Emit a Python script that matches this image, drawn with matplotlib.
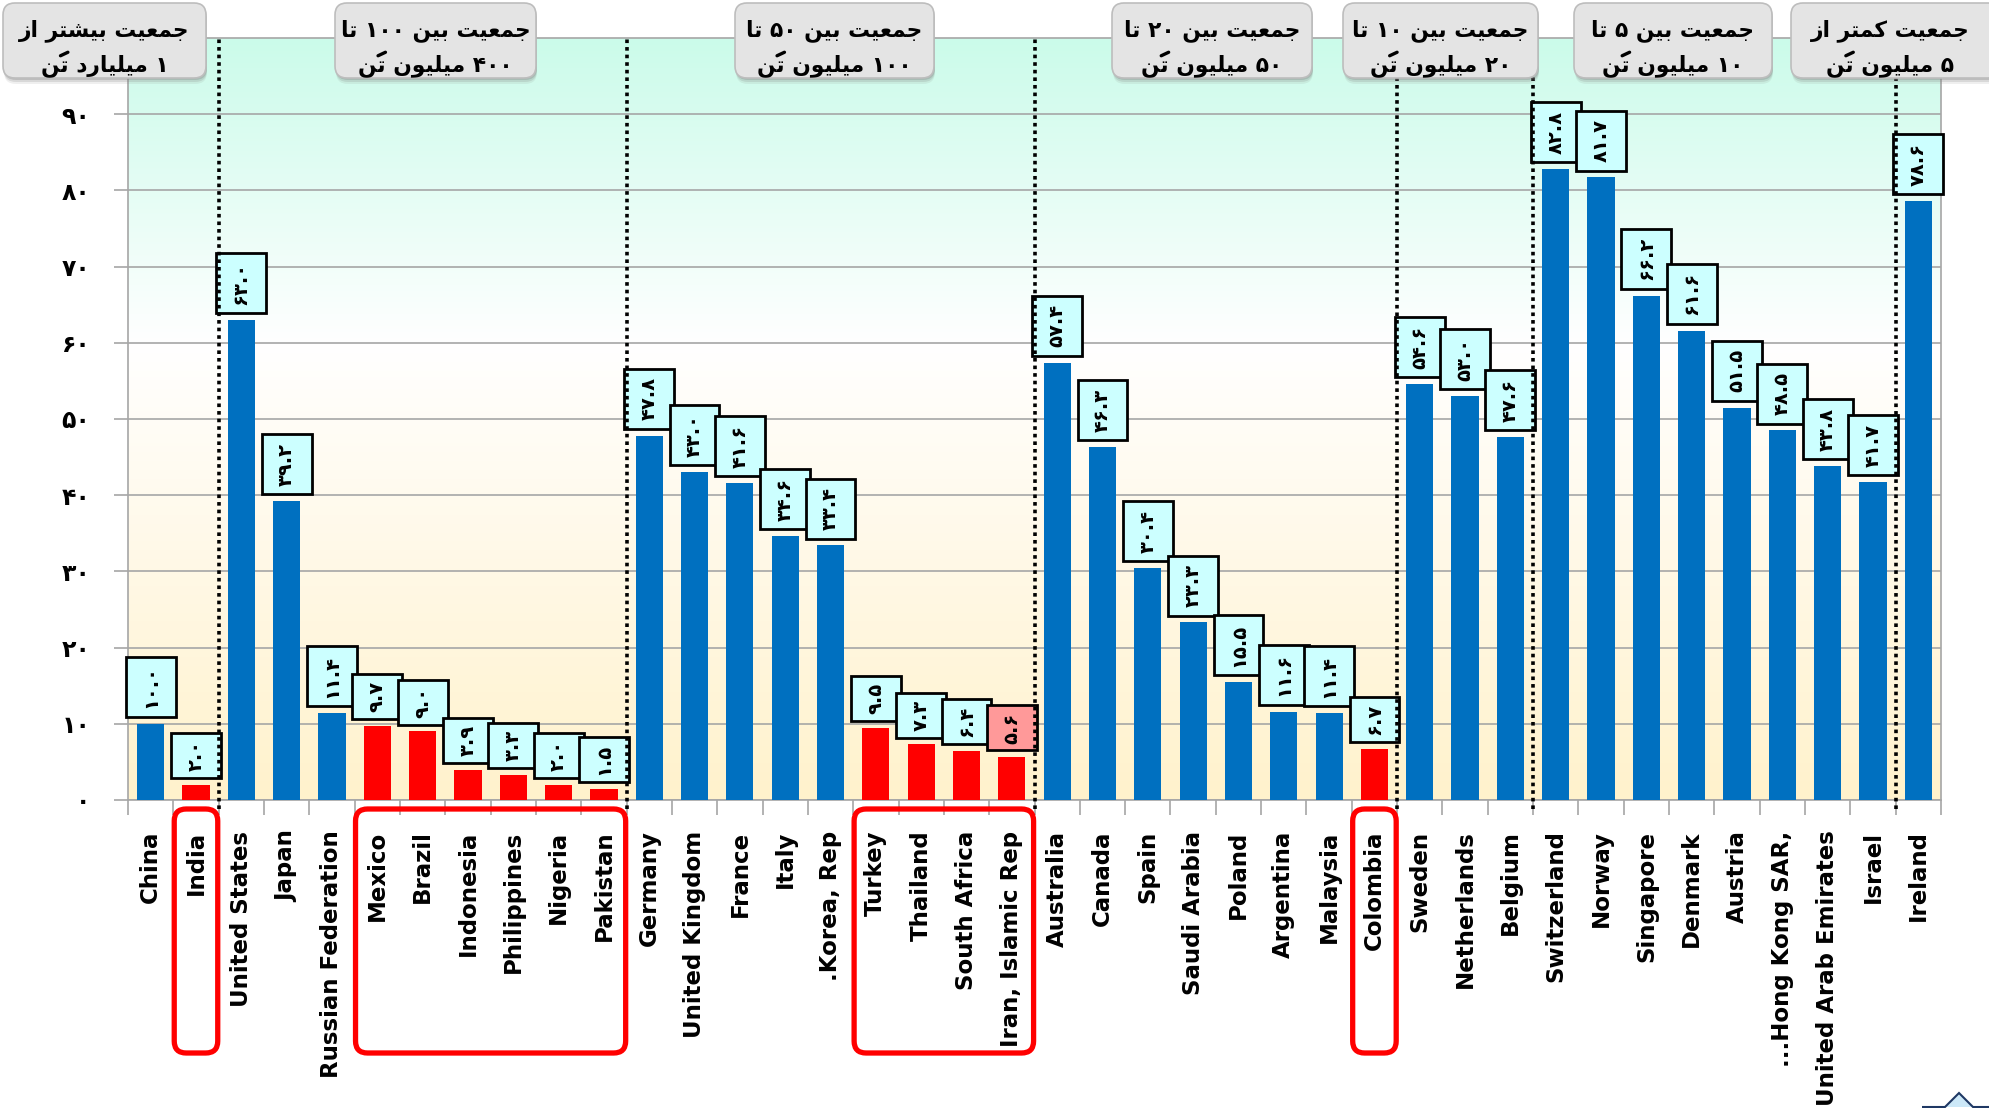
import numpy as np
import matplotlib
matplotlib.use("Agg")
import matplotlib.pyplot as plt
from matplotlib.patches import FancyBboxPatch, Rectangle, Polygon
from matplotlib.colors import LinearSegmentedColormap
from matplotlib.font_manager import FontProperties

countries = ["China", "India", "United States", "Japan", "Russian Federation",
             "Mexico", "Brazil", "Indonesia", "Philippines", "Nigeria", "Pakistan",
             "Germany", "United Kingdom", "France", "Italy", ".Korea, Rep",
             "Turkey", "Thailand", "South Africa", "Iran, Islamic Rep",
             "Australia", "Canada", "Spain", "Saudi Arabia", "Poland", "Argentina",
             "Malaysia", "Colombia", "Sweden", "Netherlands", "Belgium",
             "Switzerland", "Norway", "Singapore", "Denmark", "Austria",
             "...Hong Kong SAR,", "United Arab Emirates", "Israel", "Ireland"]
values = [10.0, 2.0, 63.0, 39.2, 11.4, 9.7, 9.0, 3.9, 3.3, 2.0, 1.5,
          47.8, 43.0, 41.6, 34.6, 33.4, 9.5, 7.3, 6.4, 5.6,
          57.4, 46.3, 30.4, 23.3, 15.5, 11.6, 11.4, 6.7,
          54.6, 53.0, 47.6, 82.8, 81.7, 66.2, 61.6, 51.5, 48.5, 43.8, 41.7, 78.6]
highlight = ["India", "Mexico", "Brazil", "Indonesia", "Philippines", "Nigeria",
             "Pakistan", "Turkey", "Thailand", "South Africa", "Iran, Islamic Rep",
             "Colombia"]
group_sizes = [2, 9, 9, 8, 3, 8, 1]
group_titles = [("جمعیت بیشتر از", "۱ میلیارد تن"),
                ("جمعیت بین ۱۰۰ تا", "۴۰۰ میلیون تن"),
                ("جمعیت بین ۵۰ تا", "۱۰۰ میلیون تن"),
                ("جمعیت بین ۲۰ تا", "۵۰ میلیون تن"),
                ("جمعیت بین ۱۰ تا", "۲۰ میلیون تن"),
                ("جمعیت بین ۵ تا", "۱۰ میلیون تن"),
                ("جمعیت کمتر از", "۵ میلیون تن")]
yticks = [0, 10, 20, 30, 40, 50, 60, 70, 80, 90]

# --- minimal Persian shaping (matplotlib has no bidi / joining) ---
FORMS = {
    'ج': ('\uFE9D', '\uFE9E', '\uFE9F', '\uFEA0'),
    'م': ('\uFEE1', '\uFEE2', '\uFEE3', '\uFEE4'),
    'ع': ('\uFEC9', '\uFECA', '\uFECB', '\uFECC'),
    'ی': ('\uFBFC', '\uFBFD', '\uFBFE', '\uFBFF'),
    'ت': ('\uFE95', '\uFE96', '\uFE97', '\uFE98'),
    'ب': ('\uFE8F', '\uFE90', '\uFE91', '\uFE92'),
    'ش': ('\uFEB5', '\uFEB6', '\uFEB7', '\uFEB8'),
    'ن': ('\uFEE5', '\uFEE6', '\uFEE7', '\uFEE8'),
    'ل': ('\uFEDD', '\uFEDE', '\uFEDF', '\uFEE0'),
    'ک': ('\uFB8E', '\uFB8F', '\uFB90', '\uFB91'),
    'ا': ('\uFE8D', '\uFE8E', None, None),
    'ر': ('\uFEAD', '\uFEAE', None, None),
    'ز': ('\uFEAF', '\uFEB0', None, None),
    'د': ('\uFEA9', '\uFEAA', None, None),
    'و': ('\uFEED', '\uFEEE', None, None),
}
FA_DIGITS = '۰۱۲۳۴۵۶۷۸۹'


def fa(s):
    return ''.join(FA_DIGITS[int(c)] if c.isdigit() else c for c in s)


def shape_tokens(s):
    # returns glyph tokens in visual (left-to-right) order
    n = len(s)
    tokens = []
    for i, c in enumerate(s):
        if c in FORMS:
            p = s[i - 1] if i > 0 else None
            q = s[i + 1] if i + 1 < n else None
            cp = p in FORMS and FORMS[p][2] is not None
            cn = FORMS[c][2] is not None and q in FORMS
            f = FORMS[c][{(0, 0): 0, (1, 0): 1, (0, 1): 2, (1, 1): 3}[(int(cp), int(cn))]]
        else:
            f = c
        if c in FA_DIGITS + '.' and tokens and tokens[-1][-1] in FA_DIGITS + '.':
            tokens[-1] += f
        else:
            tokens.append(f)
    return list(reversed(tokens))


W, H = 1989, 1108
fig = plt.figure(figsize=(W / 100, H / 100), dpi=100)
ax = fig.add_axes([128 / W, (H - 800) / H, (1941 - 128) / W, (800 - 38) / H])

x = np.arange(len(countries))
is_red = [c in highlight for c in countries]
colors = ['#FF0000' if r else '#0070C0' for r in is_red]

# background gradient
grad_cmap = LinearSegmentedColormap.from_list(
    'bg', [(0, '#FFF2CC'), (0.42, '#FFFBF0'), (0.6, '#FFFFFF'), (1, '#CBFBEA')])
ax.imshow(np.linspace(0, 1, 256)[:, None], cmap=grad_cmap, origin='lower',
          extent=[-0.5, len(x) - 0.5, 0, 100], aspect='auto', zorder=0)

ax.bar(x, values, width=0.6, color=colors, zorder=3)
ax.set_xlim(-0.5, len(x) - 0.5)
ax.set_ylim(0, 100)
ax.set_yticks(yticks)
ax.set_yticklabels([fa(str(v)) for v in yticks], fontsize=17, fontweight='bold')
ax.grid(axis='y', color='#A6A6A6', lw=1.2, zorder=1)
ax.set_axisbelow(False)
ax.tick_params(axis='y', length=10, width=1.2, color='#A6A6A6', pad=17)
ax.set_xticks(x)
ax.set_xticklabels(countries, rotation=90, fontsize=16.5, fontweight='bold', va='top')
ax.set_xticks(np.arange(-0.5, len(x), 1), minor=True)
ax.tick_params(axis='x', which='major', length=0, pad=22)
ax.tick_params(axis='x', which='minor', length=11, width=1.2, color='#A6A6A6')
for sp in ax.spines.values():
    sp.set_color('#A6A6A6')
    sp.set_linewidth(1.2)

# value label boxes
px_per_unit = 762 / 100
for i, (v, c) in enumerate(zip(values, countries)):
    lab = fa(f"{v:.1f}")
    h = 15 * len(lab) / px_per_unit
    y0 = v + 0.9
    fc = '#FF9999' if c.startswith('Iran') else '#CCFFFF'
    ax.add_patch(Rectangle((i - 0.55, y0), 1.1, h, facecolor=fc, edgecolor='black',
                           lw=2, zorder=4 + i * 0.01, clip_on=False))
    ax.text(i, y0 + h / 2, lab, rotation=90, ha='center', va='center', fontsize=14,
            fontweight='bold', zorder=4 + i * 0.01 + 0.005)

# dotted group separators
b = np.cumsum(group_sizes)[:-1] - 0.5
for xb in b:
    ax.plot([xb, xb], [-1.2, 100], color='black', lw=2.6, ls=(0, (1, 1.1)),
            clip_on=False, zorder=20)

# overlay in pixel coordinates
ov = fig.add_axes([0, 0, 1, 1], zorder=10)
ov.set_xlim(0, W)
ov.set_ylim(H, 0)
ov.axis('off')
ov.patch.set_visible(False)

renderer = fig.canvas.get_renderer()


def text_w(s, size):
    fp = FontProperties(family='DejaVu Sans', weight='bold', size=size)
    return renderer.get_text_width_height_descent(s, fp, ismath=False)[0]


head_boxes = [(3, 206), (335, 536), (735, 934), (1112, 1312), (1343, 1538),
              (1574, 1772), (1791, 2000)]
shaped = [[shape_tokens(l) for l in t] for t in group_titles]
fs = min(17, min(10 * (min(x1, W) - x0 - 10) / text_w(''.join(tk), 10)
                 for (x0, x1), t in zip(head_boxes, shaped) for tk in t))

head_cmap = LinearSegmentedColormap.from_list('hd', ['#F2F2F2', '#D3D3D3'])
for (x0, x1), (l1, l2) in zip(head_boxes, shaped):
    y0, y1 = 3, 78
    for off, al in [(6, 0.12), (4, 0.2), (2, 0.3)]:
        ov.add_patch(FancyBboxPatch((x0 + 1, y0 + off), x1 - x0, y1 - y0,
                                    boxstyle='round,pad=0,rounding_size=12',
                                    fc='#808080', ec='none', alpha=al))
    p = FancyBboxPatch((x0, y0), x1 - x0, y1 - y0,
                       boxstyle='round,pad=0,rounding_size=12',
                       fc='#E4E4E4', ec='#BDBDBD', lw=1.2)
    ov.add_patch(p)
    im = ov.imshow(np.linspace(0, 1, 64)[:, None], cmap=head_cmap,
                   extent=[x0, x1, y1, y0], aspect='auto')
    im.set_clip_path(p)
    xc = (x0 + min(x1, W)) / 2
    s1, s2 = ''.join(l1), ''.join(l2)
    ov.text(xc, 36, s1, ha='center', va='baseline', fontsize=fs, fontweight='bold')
    ov.text(xc, 71, s2, ha='center', va='baseline', fontsize=fs, fontweight='bold')
    # fatha over the teh of "تَن" (leftmost word of line 2)
    em = fs * 100 / 72
    left = xc - text_w(s2, fs) / 2
    xf = left + text_w(l2[0], fs) + text_w(l2[1], fs) * 0.5
    yf = 71 - 0.78 * em
    ov.plot([xf - 0.17 * em, xf + 0.17 * em], [yf + 0.08 * em, yf - 0.08 * em],
            color='black', lw=2.4, solid_capstyle='round')


# red boxes around highlighted label runs
def xpx(d):
    return 128 + (d + 0.5) * (1941 - 128) / len(x)


i = 0
while i < len(x):
    if is_red[i]:
        j = i
        while j + 1 < len(x) and is_red[j + 1]:
            j += 1
        l, r = xpx(i - 0.48), xpx(j + 0.48)
        ov.add_patch(FancyBboxPatch((l, 809), r - l, 244,
                                    boxstyle='round,pad=0,rounding_size=12',
                                    fc='none', ec='#FF0000', lw=3.8))
        i = j + 1
    else:
        i += 1

ov.add_patch(Polygon([(1922, 1107), (1945, 1107), (1959, 1093), (1973, 1107), (1989, 1107)],
                     closed=False, fc='#CCE8F8', ec='#1F3864', lw=1.5))
ov.set_xlim(0, W)
ov.set_ylim(H, 0)

fig.savefig('out.png', dpi=100)
